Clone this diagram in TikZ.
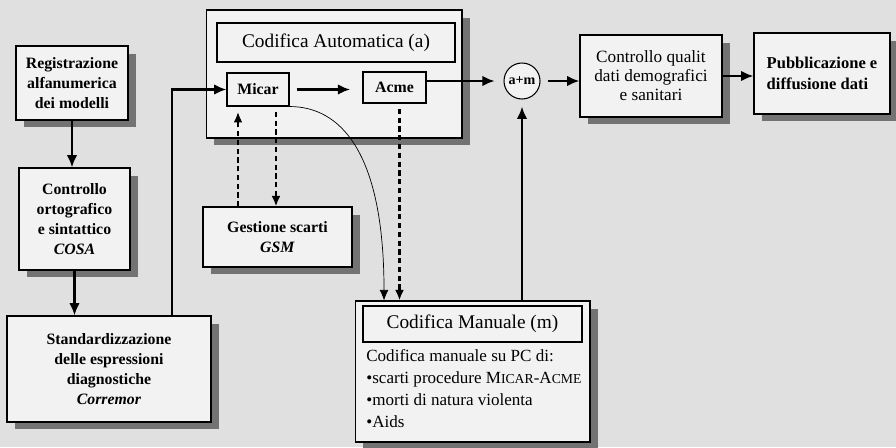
\documentclass[tikz,border=0pt]{standalone}
\usepackage{fontspec}
\setmainfont{Liberation Serif}
\usetikzlibrary{arrows.meta,shadows}
\tikzset{
  box/.style={draw,line width=0.6pt,fill=black!5,align=center,inner sep=2pt,
    drop shadow={shadow xshift=0.16cm,shadow yshift=-0.15cm,fill=black!55,opacity=1}},
  flat/.style={draw,line width=0.6pt,fill=black!5,align=center,inner sep=2pt},
  lbl/.style={font=\fontsize{9}{11.3}\selectfont\bfseries},
  arr/.style={line width=1.4pt,-{Latex[length=7pt,width=6pt]}},
  dsh/.style={line width=1.2pt,dash pattern=on 3pt off 2pt,-{Latex[length=6pt,width=5pt]}},
}
\newcommand\smc[1]{{\fontsize{7.8}{9}\selectfont #1}}
\begin{document}
\begin{tikzpicture}[x=0.02cm,y=-0.02cm]
      \fill[black!12] (0,0) rectangle (896,447);
      \useasboundingbox (0,0) rectangle (896,447);
      \node[box,lbl,minimum width=2.24cm,minimum height=1.48cm] (reg) at (72,83)
        {Registrazione\\alfanumerica\\dei modelli};
      \node[box,lbl,minimum width=2.22cm,minimum height=2.04cm] (orto) at (74.5,219)
        {Controllo\\ortografico\\e sintattico\\\textit{COSA}};
      \node[box,lbl,minimum width=4.08cm,minimum height=2.12cm] (std) at (109,369)
        {Standardizzazione\\delle espressioni\\diagnostiche\\\textit{Corremor}};
      \node[box,minimum width=5.12cm,minimum height=2.56cm] (auto) at (334,74) {};
      \node[flat,font=\fontsize{11}{13}\selectfont,minimum width=4.76cm,minimum height=0.78cm] (autot) at (336,42.5)
        {Codifica Automatica (a)};
      \node[flat,lbl,minimum width=1.24cm,minimum height=0.66cm] (micar) at (258,89.5) {Micar};
      \node[flat,lbl,minimum width=1.26cm,minimum height=0.62cm] (acme) at (394.5,87.5) {Acme};
      \node[box,lbl,minimum width=2.98cm,minimum height=1.2cm] (gsm) at (277.5,237)
        {Gestione scarti\\\textit{GSM}};
      \node[draw,line width=0.6pt,circle,fill=black!5,minimum size=0.72cm,inner sep=0pt,
        font=\fontsize{8}{9}\selectfont\bfseries] (am) at (522,81) {a+m};
      \node[box,font=\fontsize{9.8}{10.8}\selectfont,minimum width=2.84cm,minimum height=1.64cm] (qual) at (651,76)
        {Controllo qualit\\dati demografici\\e sanitari};
      \node[box,font=\fontsize{9.4}{12}\selectfont\bfseries,align=left,minimum width=2.72cm,minimum height=1.62cm] (pub) at (822,73.5)
        {Pubblicazione e\\diffusione dati};
      \node[box,minimum width=4.7cm,minimum height=2.82cm] (man) at (472.5,371.5) {};
      \node[flat,font=\fontsize{11}{13}\selectfont,minimum width=4.38cm,minimum height=0.72cm] (mant) at (472.5,324)
        {Codifica Manuale (m)};
      \node[anchor=north west,align=left,inner sep=0pt,font=\fontsize{9.7}{12.5}\selectfont] (manl) at (366,349)
        {Codifica manuale su PC di:\\\textbullet scarti procedure M\smc{ICAR}-A\smc{CME}\\\textbullet morti di natura violenta\\\textbullet Aids};
      \coordinate (g1) at ([xshift=-0.4cm]micar.south);
      \coordinate (g2) at ([xshift=0.36cm]micar.south);
      \coordinate (g3) at ([xshift=0.1cm]acme.south);
      \draw[arr] (reg.south) -- (reg.south |- orto.north);
      \draw[arr] (orto.south) -- (orto.south |- std.north);
      \draw[arr] ([xshift=1.26cm]std.north) |- (micar.west);
      \draw[arr,shorten <=4pt,shorten >=7pt] (micar.east) -- (micar.east -| acme.west);
      \draw[arr,shorten >=5pt] (acme.east |- am) -- (am.west);
      \draw[arr,shorten <=4pt] (am.east) -- (am.east -| qual.west);
      \draw[arr] (qual.east) -- (qual.east -| pub.west);
      \draw[arr,shorten >=4pt] (man.north -| am) -- (am.south);
      \draw[dsh,shorten >=3pt] (g1 |- gsm.north) -- (g1);
      \draw[dsh,shorten <=3pt] (g2) -- (g2 |- gsm.north);
      \draw[dsh,shorten <=3pt] (g3) -- (g3 |- man.north);
      \draw[thin,-{Latex[length=6pt,width=5pt]}] (micar.south east) .. controls +(50,0) and +(0,-150) .. ([xshift=-1.77cm]man.north);
    \end{tikzpicture}
\end{document}
